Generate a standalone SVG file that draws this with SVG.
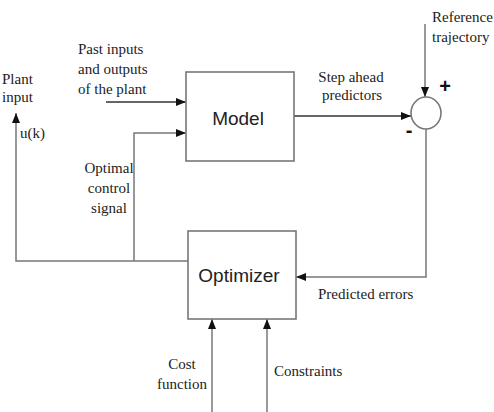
<svg xmlns="http://www.w3.org/2000/svg" width="494" height="412" viewBox="0 0 494 412">
<style>
.box{fill:#fff;stroke:#777;stroke-width:1.6}
.ln{fill:none;stroke:#777;stroke-width:1.5}
.dk{fill:none;stroke:#333;stroke-width:1.6}
.t{font-family:'Liberation Serif','DejaVu Serif',serif;font-size:15px;fill:#222}
.s{font-family:'Liberation Sans',Arial,sans-serif;font-size:19px;fill:#222}
.sg{font-family:'Liberation Sans',Arial,sans-serif;font-size:20px;font-weight:bold;fill:#111}
</style>
<defs>
<marker id="ah" markerUnits="userSpaceOnUse" markerWidth="11" markerHeight="9" refX="10" refY="4" orient="auto">
<path d="M0,0 L10,4 L0,8 z" fill="#111"/>
</marker>
</defs>
<rect width="494" height="412" fill="#fff"/>
<g id="connectors">
<path class="dk" d="M106,102 H186" marker-end="url(#ah)"/>
<path class="ln" d="M134,261 V133 H186" marker-end="url(#ah)"/>
<path class="ln" d="M188,261 H16 V113" marker-end="url(#ah)"/>
<path class="dk" d="M294,116 H411" marker-end="url(#ah)"/>
<path class="ln" d="M425,24 V97" marker-end="url(#ah)"/>
<path class="ln" d="M426,129 V277 H296" marker-end="url(#ah)"/>
<path class="ln" d="M212,412 V319" marker-end="url(#ah)"/>
<path class="ln" d="M267,412 V319" marker-end="url(#ah)"/>
</g>
<g id="model">
<rect class="box" x="186" y="72" width="108" height="89"/>
<text class="s" x="238" y="125" text-anchor="middle">Model</text>
</g>
<g id="optimizer">
<rect class="box" x="188" y="231" width="108" height="88"/>
<text class="s" x="239" y="282" text-anchor="middle">Optimizer</text>
</g>
<g id="summer">
<ellipse class="box" cx="426" cy="113" rx="15" ry="16"/>
<text class="sg" x="445" y="93" text-anchor="middle">+</text>
<text class="sg" x="409" y="137" text-anchor="middle">-</text>
</g>
<g id="labels" font-family="Liberation Serif, DejaVu Serif, serif">
<text class="t" x="78" y="54">Past inputs</text>
<text class="t" x="78" y="74">and outputs</text>
<text class="t" x="78" y="94">of the plant</text>
<text class="t" x="2" y="84">Plant</text>
<text class="t" x="2" y="102">input</text>
<text class="t" x="20" y="138">u(k)</text>
<text class="t" x="109" y="173" text-anchor="middle">Optimal</text>
<text class="t" x="109" y="193" text-anchor="middle">control</text>
<text class="t" x="109" y="213" text-anchor="middle">signal</text>
<text class="t" x="351" y="82" text-anchor="middle">Step ahead</text>
<text class="t" x="352" y="100" text-anchor="middle">predictors</text>
<text class="t" x="432" y="22">Reference</text>
<text class="t" x="432" y="42">trajectory</text>
<text class="t" x="318" y="299">Predicted errors</text>
<text class="t" x="182" y="369" text-anchor="middle">Cost</text>
<text class="t" x="182" y="389" text-anchor="middle">function</text>
<text class="t" x="274" y="376">Constraints</text>
</g>
</svg>
